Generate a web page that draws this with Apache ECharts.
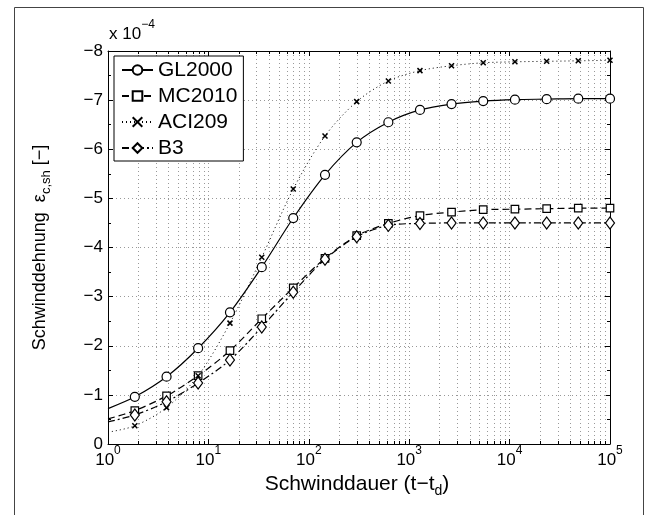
<!DOCTYPE html>
<html>
<head>
<meta charset="utf-8">
<script src="https://cdn.jsdelivr.net/npm/echarts@6/dist/echarts.min.js"></script>
<style>
html,body{margin:0;padding:0;background:#fff;}
#c{width:649px;height:515px;}
</style>
</head>
<body>
<div id="c"></div>
<script>
// ---- data ----
const xValues = [1, 1.85, 3.83, 7.9, 16.4, 34, 70, 145, 300, 620, 1280, 2640, 5460, 11300, 23400, 48300, 100000];
const seriesNames = ['GL2000', 'MC2010', 'ACI209', 'B3'];
const GL2000 = [-0.72, -0.96, -1.37, -1.95, -2.68, -3.60, -4.60, -5.48, -6.14, -6.55, -6.80, -6.92, -6.98, -7.01, -7.02, -7.03, -7.03];
const MC2010 = [-0.51, -0.68, -0.98, -1.39, -1.90, -2.55, -3.18, -3.78, -4.24, -4.49, -4.65, -4.72, -4.77, -4.78, -4.79, -4.80, -4.80];
const ACI209 = [-0.24, -0.37, -0.74, -1.39, -2.46, -3.80, -5.19, -6.27, -6.97, -7.39, -7.60, -7.70, -7.76, -7.78, -7.79, -7.80, -7.81];
const B3 = [-0.45, -0.59, -0.86, -1.24, -1.71, -2.38, -3.09, -3.76, -4.22, -4.45, -4.49, -4.50, -4.50, -4.50, -4.50, -4.50, -4.50];
const xMin = 1, xMax = 100000;
const yMin = -8, yMax = 0;
const minorTicks = [2,3,4,5,6,7,8,9, 20,30,40,50,60,70,80,90, 200,300,400,500,600,700,800,900,
  2000,3000,4000,5000,6000,7000,8000,9000, 20000,30000,40000,50000,60000,70000,80000,90000];
const scaleLabel = 'x 10';
const scaleExp = '\u22124';
const xTitle = ['Schwinddauer (t\u2212t', 'd', ')'];
const yTitle = ['Schwinddehnung  ', '\u03b5', 'c,sh', ' [\u2212]'];

const FONT = '"Liberation Sans", Arial, Helvetica, sans-serif';

function pairs(ys) {
  return xValues.map((x, i) => i === 0 ? { value: [x, ys[i]], symbol: 'none' } : [x, ys[i]]);
}

const chart = echarts.init(document.getElementById('c'), null, { renderer: 'canvas' });

const supRich = {
  b: { fontSize: 17, lineHeight: 20, fontFamily: FONT, color: '#000' },
  s: { fontSize: 12, lineHeight: 12, padding: [0, 0, 19, 0], fontFamily: FONT, color: '#000' }
};

const xTitleRich = {
  a: { fontSize: 21, lineHeight: 28, fontFamily: FONT, color: '#000' },
  s: { fontSize: 14, lineHeight: 14, padding: [14, 0, 0, 0], fontFamily: FONT, color: '#000' }
};
const yTitleRich = {
  a: { fontSize: 18, lineHeight: 24, fontFamily: FONT, color: '#000' },
  e: { fontSize: 18, lineHeight: 24, fontFamily: FONT, color: '#000' },
  s: { fontSize: 13, lineHeight: 13, padding: [13, 0, 0, 0], fontFamily: FONT, color: '#000' }
};

const baseLine = { width: 1.2, color: '#000' };

const option = {
  animation: false,
  backgroundColor: '#fff',
  textStyle: { fontFamily: FONT },
  grid: { left: 108, right: 39, top: 51, bottom: 71, containLabel: false },
  legend: {
    show: true,
    data: seriesNames,
    orient: 'vertical',
    left: 114, top: 56,
    padding: [2, 6, 1, 7],
    itemWidth: 31, itemHeight: 12, itemGap: 2,
    backgroundColor: '#fff',
    borderColor: '#000', borderWidth: 1, borderRadius: 0,
    textStyle: { fontSize: 21, lineHeight: 24, color: '#000', fontFamily: FONT },
    z: 10
  },
  xAxis: [{
    type: 'log', logBase: 10, min: xMin, max: xMax, position: 'bottom',
    name: '{a|' + xTitle[0] + '}{s|' + xTitle[1] + '}{a|' + xTitle[2] + '}',
    nameLocation: 'middle', nameGap: 26, nameMoveOverlap: false,
    nameTextStyle: { rich: xTitleRich, padding: [0, 4, 0, 0] },
    axisLine: { show: true, onZero: false, lineStyle: { color: '#000', width: 1 } },
    axisTick: { show: true, inside: true, length: 5, lineStyle: { color: '#000' } },
    axisLabel: {
      margin: 6,
      formatter: v => '{b|10}{s|' + Math.round(Math.log10(v)) + '}',
      rich: supRich
    },
    splitLine: { show: true, lineStyle: { color: '#999', type: [1, 3], width: 1 } },
    minorTick: { show: false }, minorSplitLine: { show: false }
  }, {
    type: 'log', logBase: 10, min: xMin, max: xMax, position: 'top',
    axisLine: { show: true, onZero: false, lineStyle: { color: '#000', width: 1 } },
    axisTick: { show: true, inside: true, length: 5, lineStyle: { color: '#000' } },
    axisLabel: { show: false },
    splitLine: { show: false }
  }],
  yAxis: [{
    type: 'value', min: yMin, max: yMax, interval: 1, inverse: true, position: 'left',
    name: '{a|' + yTitle[0] + '}{e|' + yTitle[1] + '}{s|' + yTitle[2] + '}{a|' + yTitle[3] + '}',
    nameLocation: 'middle', nameGap: 56, nameMoveOverlap: false,
    nameTextStyle: { rich: yTitleRich },
    axisLine: { show: true, onZero: false, lineStyle: { color: '#000', width: 1 } },
    axisTick: { show: true, inside: true, length: 5, lineStyle: { color: '#000' } },
    minorTick: { show: true, splitNumber: 2, length: 3, lineStyle: { color: '#000' } },
    axisLabel: {
      margin: 5, fontSize: 17, color: '#000', fontFamily: FONT,
      formatter: v => v === 0 ? '0' : '\u2212' + Math.abs(v)
    },
    splitLine: { show: true, lineStyle: { color: '#999', type: [1, 3], width: 1 } }
  }, {
    type: 'value', min: yMin, max: yMax, interval: 1, inverse: true, position: 'right',
    axisLine: { show: true, onZero: false, lineStyle: { color: '#000', width: 1 } },
    axisTick: { show: true, inside: true, length: 5, lineStyle: { color: '#000' } },
    minorTick: { show: true, splitNumber: 2, length: 3, lineStyle: { color: '#000' } },
    axisLabel: { show: false },
    splitLine: { show: false }
  }],
  graphic: [
    {
      type: 'rect', silent: true, z: 0,
      shape: { x: 14.5, y: 7.5, width: 629, height: 520 },
      style: { fill: 'none', stroke: '#444', lineWidth: 1 }
    },
    {
      type: 'text', x: 109, y: 24, silent: true,
      style: {
        text: '{b|' + scaleLabel + '}{s|' + scaleExp + '}',
        rich: supRich
      }
    }
  ],
  series: [
    {
      type: 'custom', name: 'minorGrid', silent: true, z: 1,
      xAxisIndex: 0, yAxisIndex: 0,
      data: minorTicks.map(v => [v, yMax]),
      renderItem: (params, api) => {
        const v = api.value(0);
        const b = api.coord([v, yMax]);
        const t = api.coord([v, yMin]);
        const x = Math.round(b[0]) + 0.5;
        return {
          type: 'group',
          children: [
            { type: 'line', shape: { x1: x, y1: b[1], x2: x, y2: t[1] },
              style: { stroke: '#999', lineDash: [1, 3], lineWidth: 1 } },
            { type: 'line', shape: { x1: x, y1: b[1], x2: x, y2: b[1] - 3 },
              style: { stroke: '#000', lineWidth: 1 } },
            { type: 'line', shape: { x1: x, y1: t[1], x2: x, y2: t[1] + 3 },
              style: { stroke: '#000', lineWidth: 1 } }
          ]
        };
      }
    },
    {
      type: 'line', name: 'GL2000', data: pairs(GL2000), smooth: 0.3, z: 5,
      symbol: 'circle', symbolSize: 9,
      lineStyle: Object.assign({ type: 'solid' }, baseLine),
      itemStyle: { color: '#fff', borderColor: '#000', borderWidth: 1.2 }
    },
    {
      type: 'line', name: 'MC2010', data: pairs(MC2010), smooth: 0.3, z: 5,
      symbol: 'rect', symbolSize: 7.5,
      lineStyle: Object.assign({ type: [7, 4] }, baseLine),
      itemStyle: { color: '#fff', borderColor: '#000', borderWidth: 1.2 }
    },
    {
      type: 'line', name: 'ACI209', data: pairs(ACI209), smooth: 0.3, z: 5,
      symbol: 'path://M0,0L10,10M10,0L0,10', symbolSize: 5,
      lineStyle: { type: [1, 3], width: 1, color: '#000' },
      itemStyle: { color: 'none', borderColor: '#000', borderWidth: 1.5 }
    },
    {
      type: 'line', name: 'B3', data: pairs(B3), smooth: 0.3, z: 5,
      symbol: 'diamond', symbolSize: [9, 12],
      lineStyle: Object.assign({ type: [7, 3, 2, 3] }, baseLine),
      itemStyle: { color: '#fff', borderColor: '#000', borderWidth: 1.2 }
    }
  ]
};

chart.setOption(option);
</script>
</body>
</html>
